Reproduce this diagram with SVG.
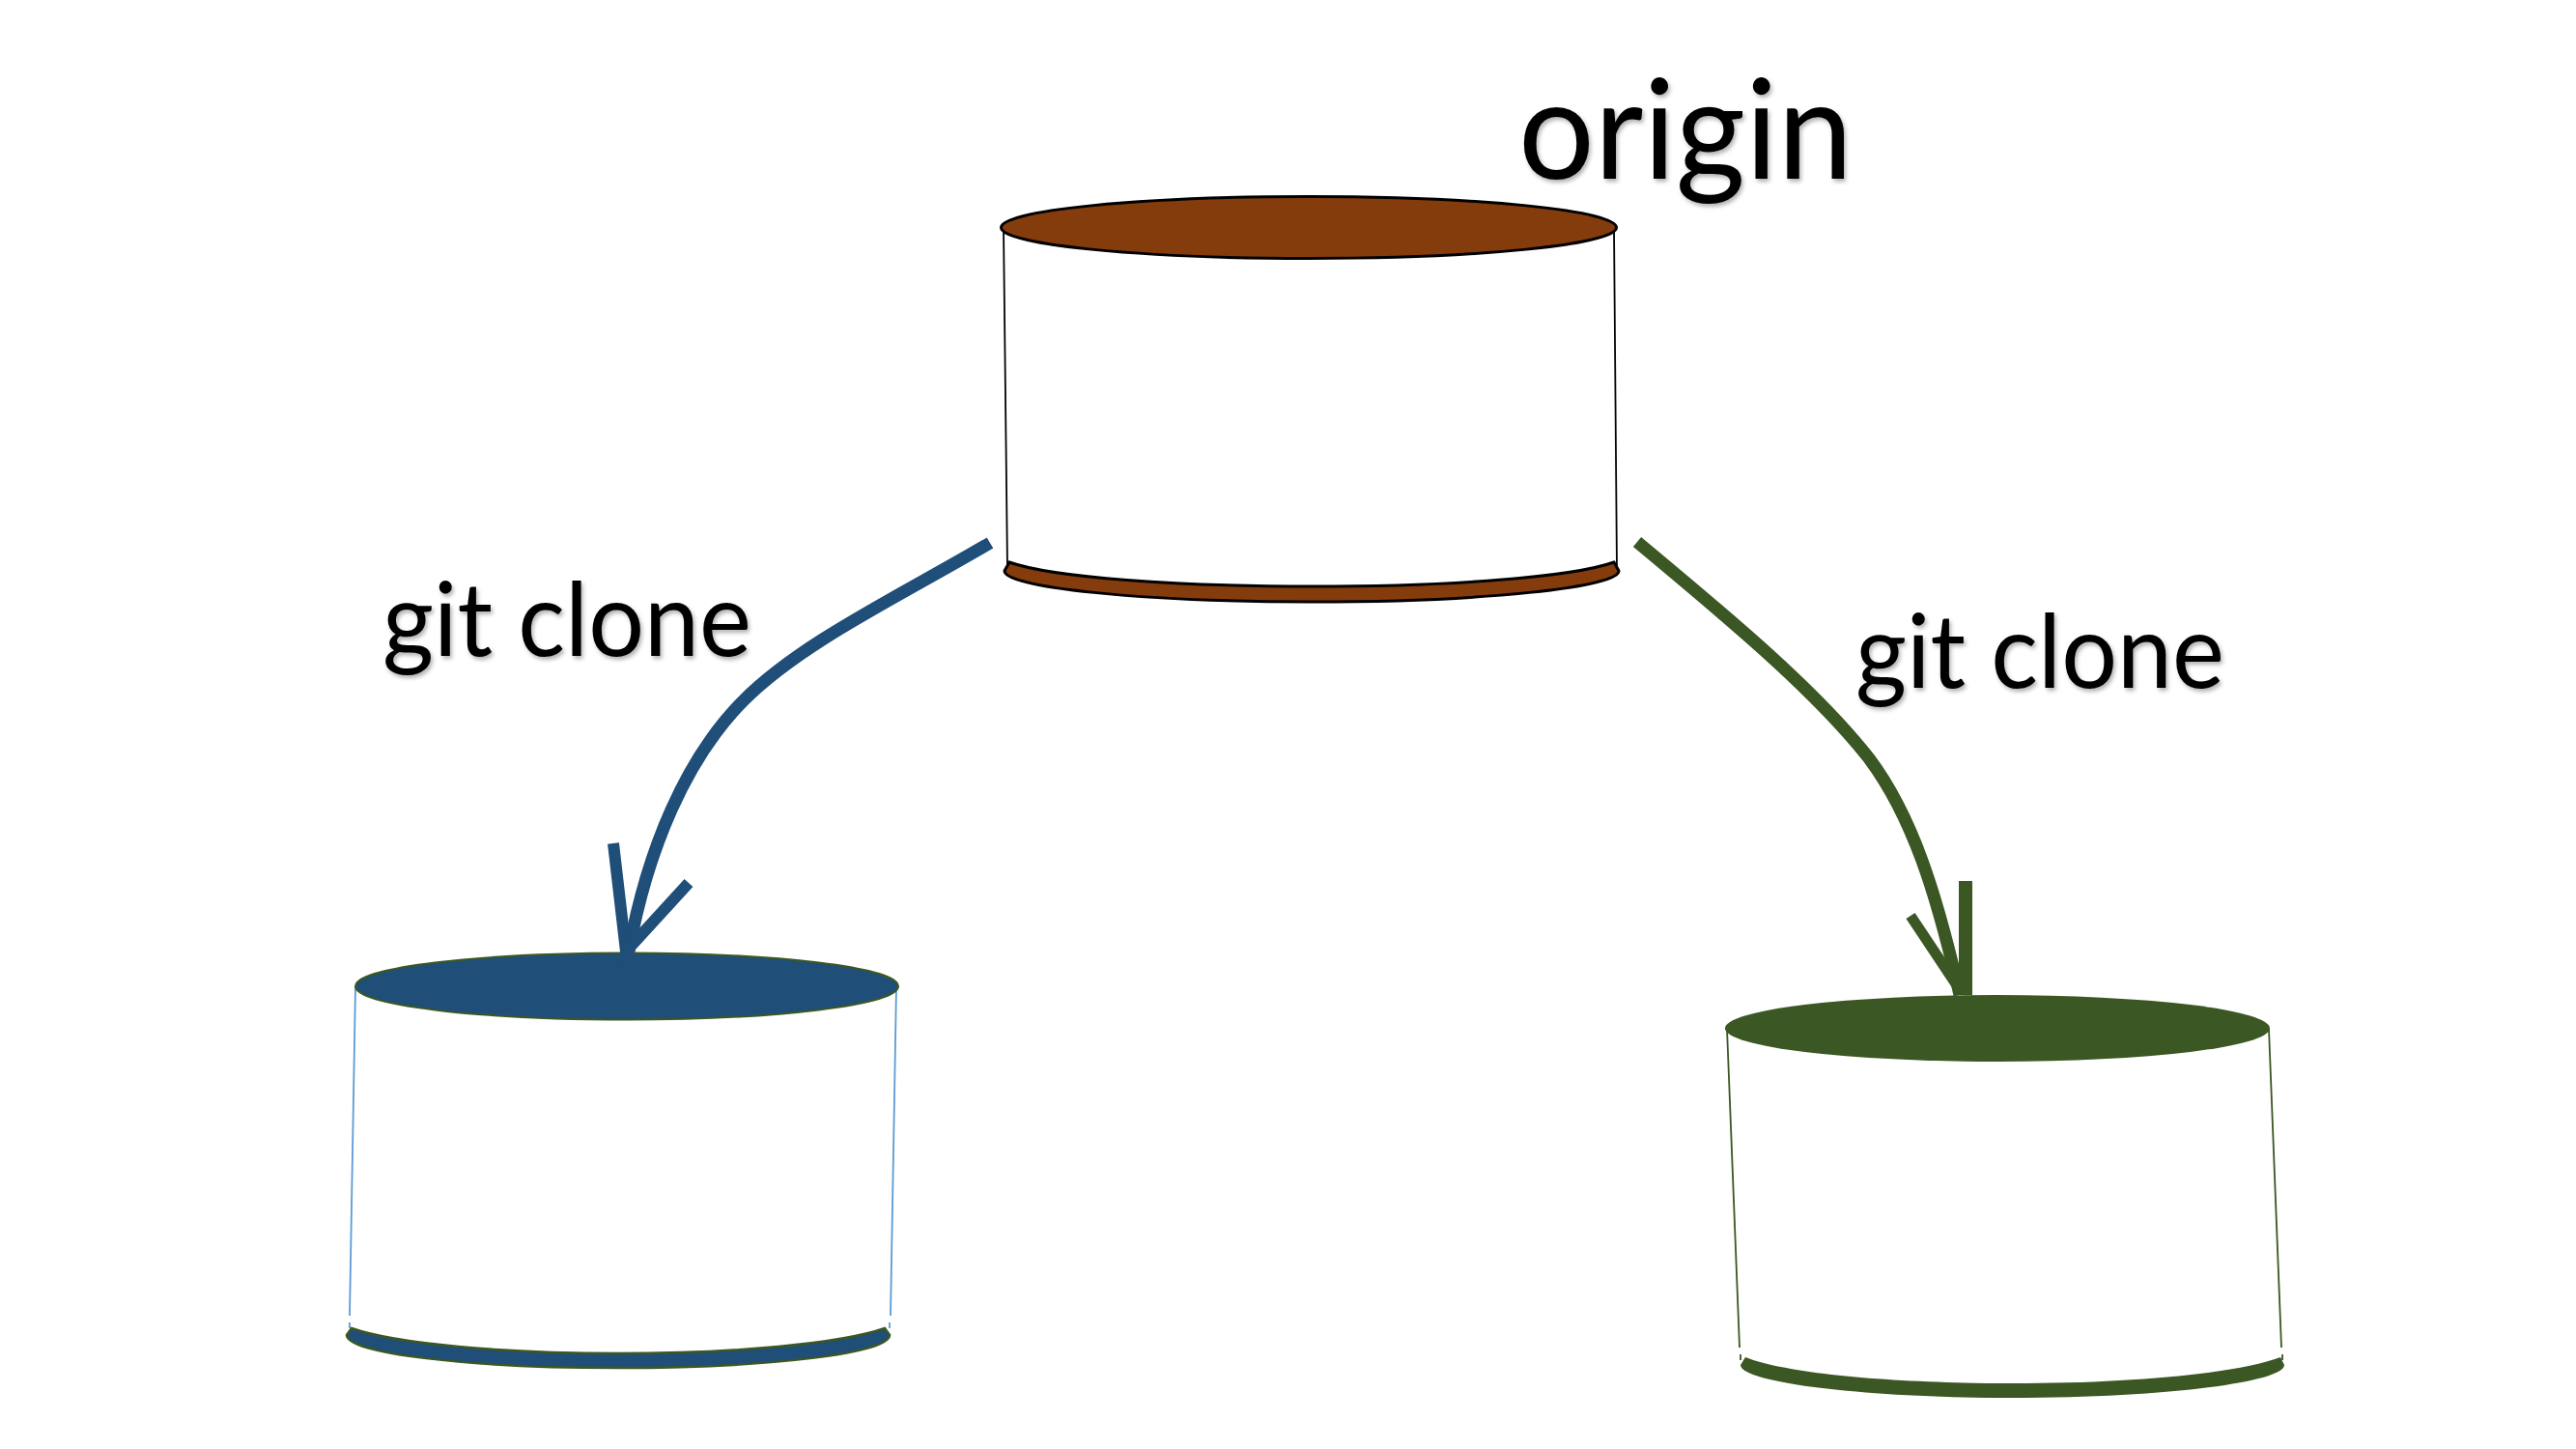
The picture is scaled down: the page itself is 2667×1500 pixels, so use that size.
<svg xmlns="http://www.w3.org/2000/svg" width="2667" height="1500" viewBox="0 0 2667 1500">
<defs>
<filter id="shadow" x="-5%" y="-10%" width="110%" height="125%"><feDropShadow dx="2" dy="3" stdDeviation="2" flood-color="#000" flood-opacity="0.3"/></filter>
</defs>
<style>
.label{font-family:"Lato","Open Sans","Liberation Sans",sans-serif;fill:#000;filter:url(#shadow)}
.clone{font-size:106px}
.origin{font-size:144px}
.conn{fill:none;stroke-linecap:butt;stroke-linejoin:miter}
.blue{stroke:#1f4e79}
.green{stroke:#3b5723}
</style>
<rect width="2667" height="1500" fill="#fff"/>
<g id="node-origin">
<path d="M1039,236L1043,590M1671,236L1674,590" fill="none" stroke="#000" stroke-width="1.8"/>
<path d="M1045,582C1090,598 1220,607 1358,607C1496,607 1626,598 1671,582L1676,591C1676,608 1535,623 1358,623C1181,623 1040,608 1040,591Z" fill="#843c0c" stroke="#000" stroke-width="3"/>
<ellipse cx="1355" cy="235.5" rx="318.5" ry="32" fill="#843c0c" stroke="#000" stroke-width="3"/>
<text class="label origin" x="1572" y="185" textLength="346" lengthAdjust="spacingAndGlyphs">origin</text>
</g>
<g id="node-clone-left">
<path d="M368,1021L362,1362M362,1369V1375M928,1021L922,1362M921,1369V1375" fill="none" stroke="#5b9bd5" stroke-width="1.8"/>
<path d="M364,1375C410,1391 520,1401 640,1401C760,1401 870,1391 916,1375L921,1382C921,1401 795,1416 640,1416C485,1416 359,1401 359,1382Z" fill="#1f4e79" stroke="#3b5723" stroke-width="2.5"/>
<ellipse cx="649" cy="1021" rx="281" ry="34.5" fill="#1f4e79" stroke="#3b5723" stroke-width="2"/>
</g>
<g id="node-clone-right">
<path d="M1788,1065L1801,1395M1802,1402V1408M2349,1065L2362,1395M2363,1402V1408" fill="none" stroke="#3b5723" stroke-width="1.8"/>
<path d="M1807,1405C1850,1422 1960,1432 2083,1432C2206,1432 2316,1422 2361,1405L2365,1413C2365,1431 2239,1447 2083.5,1447C1928,1447 1802,1431 1802,1413Z" fill="#3b5723"/>
<ellipse cx="2068" cy="1064.5" rx="282" ry="34.5" fill="#3b5723"/>
</g>
<g id="connectors">
<path class="conn blue" stroke-width="13" d="M1025,562C930,618 830,665 770,725C710,785 670,880 651,985"/>
<path class="conn blue" stroke-width="12" d="M635,873L648,985L713,914"/>
<path class="conn green" stroke-width="13" d="M1695,561C1790,640 1880,715 1935,785C1980,845 2005,925 2029,1030"/>
<path class="conn green" stroke-width="11" d="M1978,948L2030,1026"/>
<path class="conn green" stroke-width="14" d="M2035,912V1030"/>
</g>
<g id="labels">
<text class="label clone" x="396" y="679" textLength="382" lengthAdjust="spacingAndGlyphs">git clone</text>
<text class="label clone" x="1921" y="712" textLength="382" lengthAdjust="spacingAndGlyphs">git clone</text>
</g>
</svg>
